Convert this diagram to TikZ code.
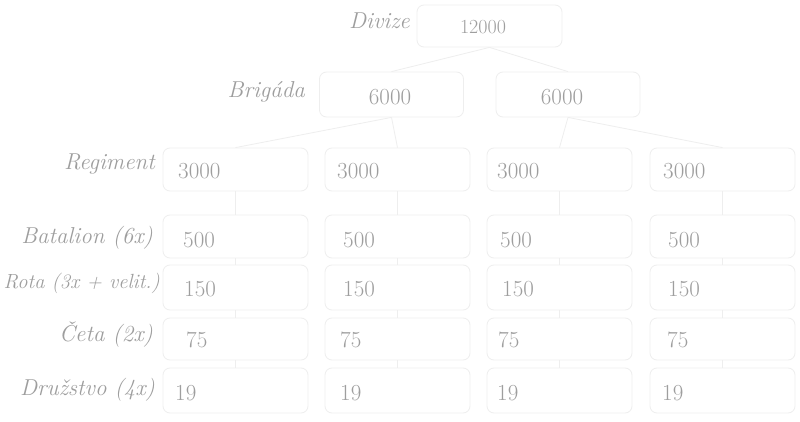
\documentclass[tikz,border=0pt]{standalone}
\usepackage{fontspec}
\definecolor{boxline}{gray}{0.935}
\definecolor{txt}{gray}{0.62}
\tikzset{
  x=1pt, y=-1pt,
  box/.style={draw=boxline, fill=white, rounded corners=7pt, line width=0.8pt, inner sep=0pt},
  num/.style={inner sep=0pt, text=txt, font=\fontsize{23}{26}\selectfont, anchor=west},
  lab/.style={inner sep=0pt, text=txt, font=\fontsize{23}{26}\selectfont\itshape, anchor=east},
  conn/.style={draw=boxline, line width=0.8pt}
}
\begin{document}
\begin{tikzpicture}
\fill[white] (0,0) rectangle (800,422);
\useasboundingbox (0,0) rectangle (800,422);
% boxes
\node[box, minimum width=145pt, minimum height=42pt] (d) at (489.5,26) {};
\node[box, minimum width=144pt, minimum height=45pt] (b1) at (391.5,94.5) {};
\node[box, minimum width=144pt, minimum height=45pt] (b2) at (568,94.5) {};
\foreach \c/\x in {1/235.5,2/397.5,3/559.5,4/722.5}{
  \node[box, minimum width=145pt, minimum height=43pt] (r3c\c) at (\x,169.5) {};
  \node[box, minimum width=145pt, minimum height=43pt] (r4c\c) at (\x,236.5) {};
  \node[box, minimum width=145pt, minimum height=45pt] (r5c\c) at (\x,287.5) {};
  \node[box, minimum width=145pt, minimum height=42pt] (r6c\c) at (\x,339) {};
  \node[box, minimum width=145pt, minimum height=45pt] (r7c\c) at (\x,390.5) {};
}
% connectors
\draw[conn] (d.south) -- (b1.north);
\draw[conn] (d.south) -- (b2.north);
\draw[conn] (b1.south) -- (r3c1.north);
\draw[conn] (b1.south) -- (r3c2.north);
\draw[conn] (b2.south) -- (r3c3.north);
\draw[conn] (b2.south) -- (r3c4.north);
\foreach \c in {1,2,3,4}{
  \draw[conn] (r3c\c.south) -- (r4c\c.north);
  \draw[conn] (r4c\c.south) -- (r5c\c.north);
  \draw[conn] (r5c\c.south) -- (r6c\c.north);
  \draw[conn] (r6c\c.south) -- (r7c\c.north);
}
% numbers
\node[num, anchor=center, font=\fontsize{20}{24}\selectfont] (nd) at (483,27) {12000};
\node[num, anchor=center] (nb1) at (390,97) {6000};
\node[num, anchor=center] (nb2) at (562,97) {6000};
\foreach \c/\x in {1/178,2/337,3/497,4/663}{\node[num] (n3c\c) at (\x,171) {3000};}
\foreach \c/\x in {1/183,2/343,3/500,4/668}{\node[num] (n4c\c) at (\x,240) {500};}
\foreach \c/\x in {1/184,2/343,3/502,4/668}{\node[num] (n5c\c) at (\x,289) {150};}
\foreach \c/\x in {1/186,2/340,3/498,4/667}{\node[num] (n6c\c) at (\x,340) {75};}
\foreach \c/\x in {1/175,2/340,3/497,4/662}{\node[num] (n7c\c) at (\x,393) {19};}
% labels
\node[lab] (l1) at (410,21) {Divize};
\node[lab] (l2) at (305,92) {Brigáda};
\node[lab] (l3) at (155,164) {Regiment};
\node[lab] (l4) at (153,238) {Batalion (6x)};
\node[lab, font=\fontsize{20.5}{24}\selectfont\itshape] (l5) at (160,283) {Rota (3x + velit.)};
\node[lab] (l6) at (153,335) {Četa (2x)};
\node[lab] (l7) at (155,390) {Družstvo (4x)};
\end{tikzpicture}
\end{document}
